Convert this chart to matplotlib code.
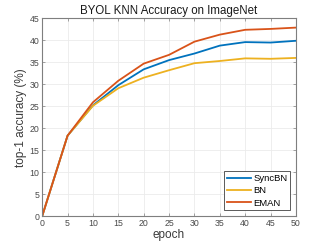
import matplotlib
matplotlib.use("Agg")
import matplotlib.pyplot as plt

epochs = [0, 5, 10, 15, 20, 25, 30, 35, 40, 45, 50]
syncbn = [0, 18.3, 25.2, 29.8, 33.4, 35.5, 37.0, 38.8, 39.6, 39.5, 39.9]
bn = [0, 18.3, 25.1, 29.1, 31.5, 33.2, 34.8, 35.3, 35.9, 35.8, 36.0]
eman = [0, 18.3, 25.9, 30.8, 34.7, 36.7, 39.7, 41.3, 42.4, 42.6, 42.9]
xticks = list(range(0, 51, 5))
yticks = list(range(0, 46, 5))

plt.rcParams['font.family'] = ['Liberation Sans', 'DejaVu Sans']
fig = plt.figure(figsize=(3.27, 2.45), dpi=100)
ax = fig.add_axes([0.129, 0.118, 0.776, 0.807])
ax.plot(epochs, syncbn, color='#0072BD', lw=1.3, label='SyncBN')
ax.plot(epochs, bn, color='#EDB120', lw=1.3, label='BN')
ax.plot(epochs, eman, color='#D95319', lw=1.3, label='EMAN')
ax.set_xlim(0, 50)
ax.set_ylim(0, 45)
ax.set_xticks(xticks)
ax.set_yticks(yticks)
ax.grid(True, color='#ebebeb', lw=0.6)
ax.set_axisbelow(True)
for s in ax.spines.values():
    s.set_color('#7f7f7f')
    s.set_linewidth(0.8)
ax.tick_params(direction='in', length=2.5, width=0.5, labelsize=6.3, colors='#7f7f7f',
               labelcolor='#4a4a4a', top=True, right=True, pad=2)
ax.set_xlabel('epoch', fontsize=8.5, color='#3a3a3a', labelpad=1)
ax.set_ylabel('top-1 accuracy (%)', fontsize=8.5, color='#3a3a3a', labelpad=2)
ax.set_title('BYOL KNN Accuracy on ImageNet', fontsize=8.3, color='#1a1a1a', pad=3)
leg = ax.legend(loc='lower right', fontsize=6.8, fancybox=False, framealpha=1,
                edgecolor='#404040', borderaxespad=0.6, handlelength=2.6,
                labelspacing=0.35, borderpad=0.3, handletextpad=0.2)
leg.get_frame().set_linewidth(0.6)
fig.savefig('out.png', dpi=100)
